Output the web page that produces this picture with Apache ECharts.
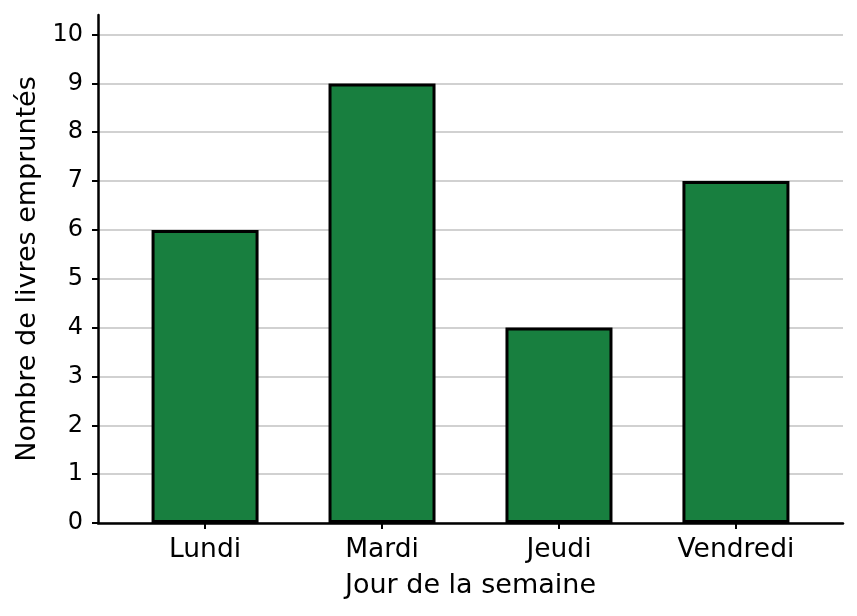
<!DOCTYPE html>
<html>
<head>
<meta charset="utf-8">
<script src="https://cdn.jsdelivr.net/npm/echarts@6/dist/echarts.min.js"></script>
<style>
  html, body { margin: 0; padding: 0; background: #fff; }
  #wrap { width: 857px; height: 616px; }
</style>
</head>
<body>
<div id="wrap"></div>
<script>
var days = ['Lundi', 'Mardi', 'Jeudi', 'Vendredi'];
var livres = [6, 9, 4, 7];
var yTicks = [0, 1, 2, 3, 4, 5, 6, 7, 8, 9, 10];

var font = 'DejaVu Sans';
var fs = 27;

// last split line (at the axis max) stays invisible
var gridColors = yTicks.map(function () { return '#c2c2c2'; });
gridColors.push('transparent');

var option = {
    animation: false,
    textStyle: { fontFamily: font },
    grid: {
        left: 98,
        right: 14,
        top: 15,
        bottom: 93
    },
    xAxis: {
        type: 'value',
        min: -0.605,
        max: 3.605,
        name: 'Jour de la semaine',
        nameLocation: 'middle',
        nameGap: 49,
        nameTextStyle: { fontSize: fs, color: '#000', fontFamily: font },
        axisLine: { onZero: false, lineStyle: { color: '#000', width: 2.5 } },
        axisTick: { show: true, length: 6, lineStyle: { color: '#000', width: 2 }, customValues: [0, 1, 2, 3] },
        axisLabel: {
            customValues: [0, 1, 2, 3],
            formatter: function (v) { return days[Math.round(v)]; },
            fontSize: 26.5, color: '#000', margin: 14, fontFamily: font
        },
        splitLine: { show: false }
    },
    yAxis: {
        type: 'value',
        min: 0,
        max: 10.4,
        interval: 1,
        name: 'Nombre de livres empruntés',
        nameLocation: 'middle',
        nameGap: 53,
        nameTextStyle: { fontSize: fs, color: '#000', fontFamily: font },
        axisLine: { show: true, onZero: false, lineStyle: { color: '#000', width: 2.5 } },
        axisTick: { show: true, length: 6, lineStyle: { color: '#000', width: 2 }, customValues: yTicks },
        axisLabel: { customValues: yTicks, fontSize: 24, color: '#000', margin: 15, fontFamily: font },
        splitLine: { show: true, lineStyle: { color: gridColors, width: 1.5 } }
    },
    series: [
        {
            type: 'bar',
            barWidth: 107,
            data: livres.map(function (v, i) { return [i, v]; }),
            itemStyle: { color: '#187f3f', borderColor: '#000', borderWidth: 3 }
        }
    ]
};

var myChart = echarts.init(document.getElementById('wrap'));
myChart.setOption(option);
</script>
</body>
</html>
